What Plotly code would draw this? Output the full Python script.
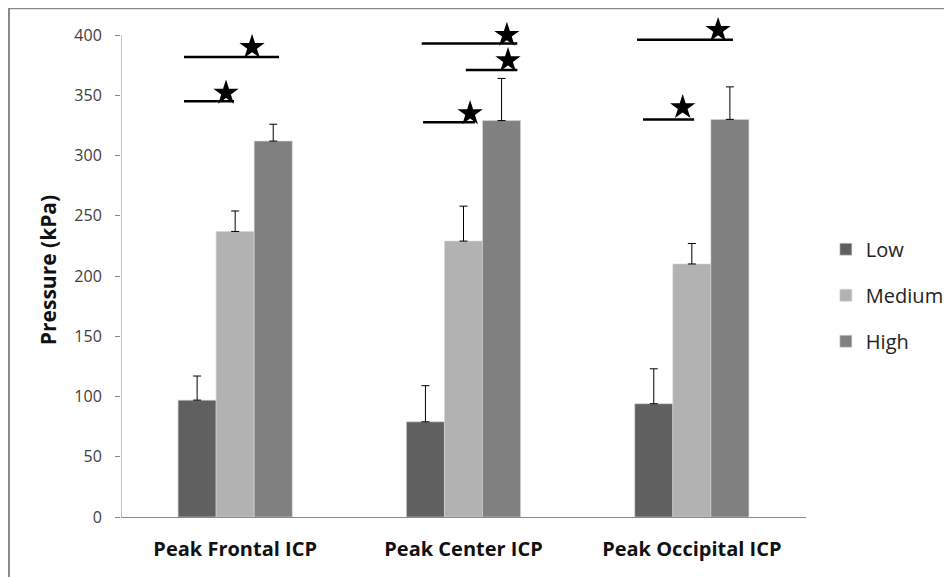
import plotly.graph_objects as go

categories = ["Peak Frontal ICP", "Peak Center ICP", "Peak Occipital ICP"]
series_names = ["Low", "Medium", "High"]
low_vals = [97, 79, 94]
medium_vals = [237, 229, 210]
high_vals = [312, 329, 330]
low_err = [20, 30, 29]
medium_err = [17, 29, 17]
high_err = [14, 35, 27]
colors = ["#606060", "#b2b2b2", "#808080"]
y_ticks = [0, 50, 100, 150, 200, 250, 300, 350, 400]

# significance brackets: (x start, x end, y) in category units / kPa
sig_x0 = [-0.224, -0.224, 0.817, 1.01, 0.823, 1.76, 1.786]
sig_x1 = [0.192, -0.005, 1.236, 1.236, 1.05, 2.18, 2.01]
sig_y = [381.7, 345, 393, 371, 327.6, 396, 330]
star_x = [0.074, -0.04, 1.19, 1.195, 1.029, 2.115, 1.96]
star_y = [390, 352, 400, 379, 335, 404, 340]

FONT = "Open Sans"
AXIS_GRAY = "#8a8a8a"

fig = go.Figure()
xs = list(range(len(categories)))
for name, vals, errs, col in zip(series_names, [low_vals, medium_vals, high_vals],
                                 [low_err, medium_err, high_err], colors):
    fig.add_trace(go.Bar(
        x=xs, y=vals, name=name,
        marker=dict(color=col, line=dict(color="#d6d6d6", width=0.6)),
        legendgroup=name,
        error_y=dict(type="data", array=errs, arrayminus=[0] * len(errs), symmetric=False,
                     color="black", thickness=1, width=4),
    ))

for x0, x1, y in zip(sig_x0, sig_x1, sig_y):
    fig.add_shape(type="line", x0=x0, x1=x1, y0=y, y1=y, xref="x", yref="y",
                  line=dict(color="black", width=2.5))

fig.add_trace(go.Scatter(x=star_x, y=star_y, mode="markers", showlegend=False,
                         marker=dict(symbol="star", size=19, color="black", line=dict(width=0)),
                         cliponaxis=False, hoverinfo="skip"))

# y axis line only up to the top tick
fig.add_shape(type="line", xref="x", yref="y", x0=-0.5, x1=-0.5, y0=0, y1=y_ticks[-1],
              line=dict(color=AXIS_GRAY, width=1))

# outer frame of the chart area
fig.add_shape(type="rect", xref="paper", yref="paper", x0=-0.1635, x1=1.5, y0=-0.5, y1=1.03,
              line=dict(color=AXIS_GRAY, width=2), fillcolor="rgba(0,0,0,0)", layer="below")

fig.update_layout(
    width=944, height=569,
    margin=dict(l=113, r=146, t=15, b=60, pad=0, autoexpand=False),
    plot_bgcolor="white", paper_bgcolor="white",
    barmode="group", bargap=0.5, bargroupgap=0,
    font=dict(family=FONT, color="#333333"),
    showlegend=True,
    legend=dict(x=1.029, y=0.449, yanchor="middle", xanchor="left",
                font=dict(size=20, color="#222222", family=FONT),
                tracegroupgap=17, traceorder="grouped", itemwidth=30,
                bgcolor="rgba(0,0,0,0)"),
    xaxis=dict(tickmode="array", tickvals=xs, ticktext=["<b>%s</b>" % c for c in categories],
               range=[-0.5, len(categories) - 0.5], showline=True, linecolor=AXIS_GRAY, linewidth=1,
               ticks="", tickfont=dict(size=20, color="#111111", family=FONT),
               ticklabelstandoff=14, showgrid=False, zeroline=False),
    yaxis=dict(range=[0, 410], tickmode="array", tickvals=y_ticks,
               showline=False, ticks="outside",
               ticklen=5, tickcolor=AXIS_GRAY, showgrid=False, zeroline=False,
               ticklabelstandoff=10,
               tickfont=dict(size=16, color="#404040", family=FONT),
               title=dict(text="<b>Pressure (kPa)</b>", font=dict(size=21, color="#111111", family=FONT),
                          standoff=11)),
)

fig.write_html("out.html")
